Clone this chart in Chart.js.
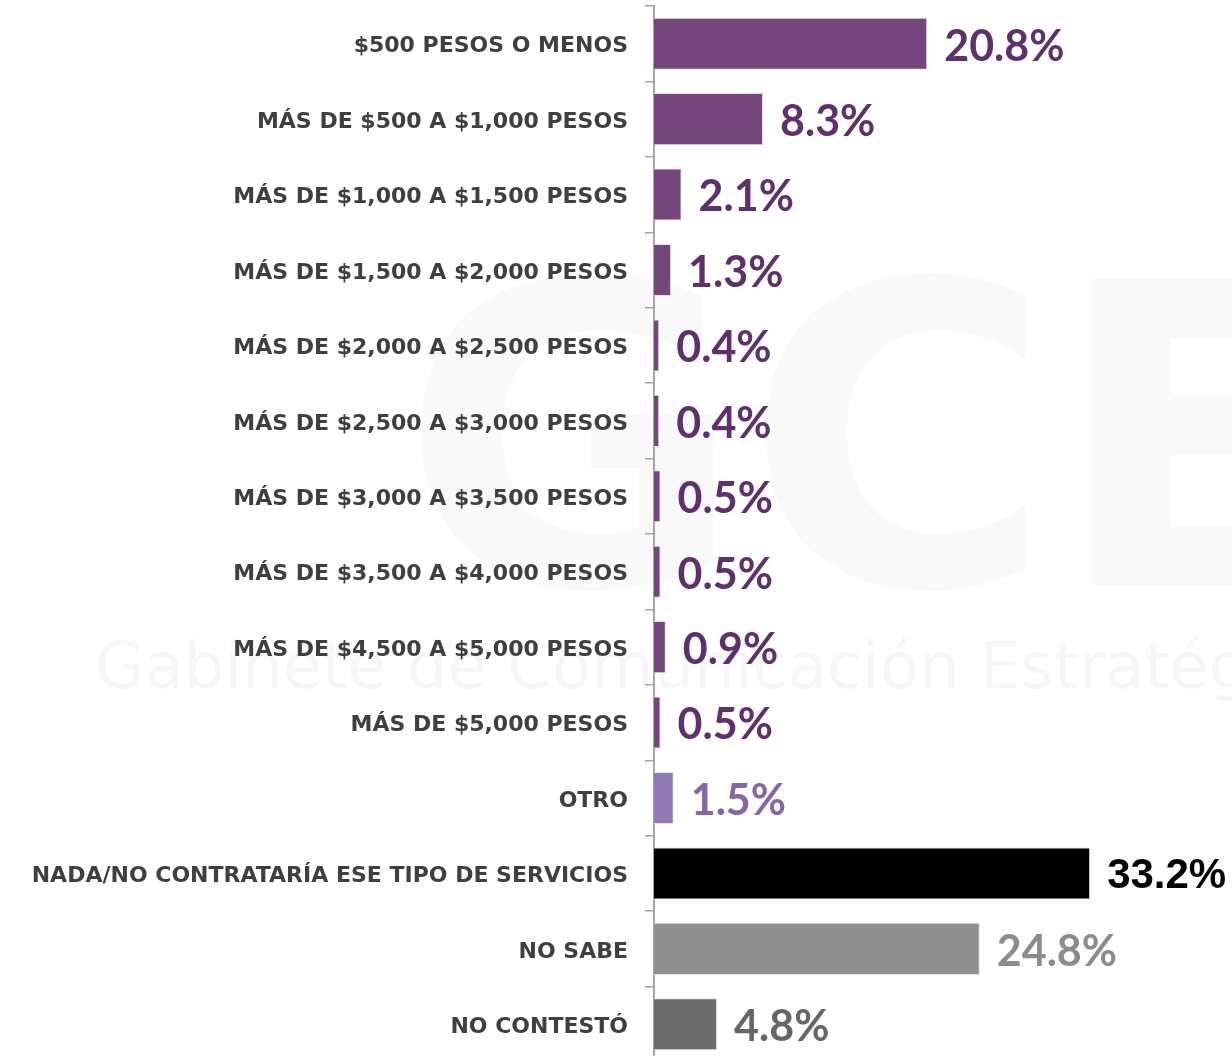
<!DOCTYPE html>
<html>
<head>
<meta charset="utf-8">
<script src="https://cdn.jsdelivr.net/npm/chart.js@4/dist/chart.umd.min.js"></script>
<style>
html,body{margin:0;padding:0;background:#fff;overflow:hidden;}
canvas{display:block;}
</style>
</head>
<body>
<canvas id="c" width="1232" height="1062" style="width:1232px;height:1062px"></canvas>
<script>
const categories = [
  "$500 PESOS O MENOS",
  "MÁS DE $500 A $1,000 PESOS",
  "MÁS DE $1,000 A $1,500 PESOS",
  "MÁS DE $1,500 A $2,000 PESOS",
  "MÁS DE $2,000 A $2,500 PESOS",
  "MÁS DE $2,500 A $3,000 PESOS",
  "MÁS DE $3,000 A $3,500 PESOS",
  "MÁS DE $3,500 A $4,000 PESOS",
  "MÁS DE $4,500 A $5,000 PESOS",
  "MÁS DE $5,000 PESOS",
  "OTRO",
  "NADA/NO CONTRATARÍA ESE TIPO DE SERVICIOS",
  "NO SABE",
  "NO CONTESTÓ"
];
const values = [20.8, 8.3, 2.1, 1.3, 0.4, 0.4, 0.5, 0.5, 0.9, 0.5, 1.5, 33.2, 24.8, 4.8];
const barColors = ["#74467c","#74467c","#74467c","#74467c","#74467c","#74467c","#74467c","#74467c","#74467c","#74467c","#9179b3","#000000","#8f8f8f","#6a6a6a"];
const labelColors = ["#5f2f6e","#5f2f6e","#5f2f6e","#5f2f6e","#5f2f6e","#5f2f6e","#5f2f6e","#5f2f6e","#5f2f6e","#5f2f6e","#8566a8","#000000","#8c8c8c","#666666"];

const watermark = {
  id: 'watermark',
  beforeDraw(chart) {
    const ctx = chart.ctx;
    ctx.save();
    ctx.textBaseline = 'alphabetic';
    ctx.textAlign = 'left';
    ctx.fillStyle = 'rgba(0,0,0,0.035)';
    ctx.font = '64px "DejaVu Sans"';
    ctx.fillText('Gabinete de Comunicación Estratégica', 95, 688);
    ctx.font = 'bold 420px "DejaVu Sans"';
    ctx.fillStyle = 'rgba(0,0,0,0.025)';
    ctx.fillText('GCE', 400, 585);
    ctx.restore();
  }
};

const valueLabels = {
  id: 'valueLabels',
  afterDatasetsDraw(chart) {
    const ctx = chart.ctx;
    const meta = chart.getDatasetMeta(0);
    ctx.save();
    ctx.textAlign = 'left';
    ctx.textBaseline = 'middle';
    meta.data.forEach((bar, i) => {
      ctx.fillStyle = labelColors[i];
      ctx.font = (i === 11) ? 'bold 42px "Liberation Sans"' : 'bold 43px Lato';
      ctx.fillText(values[i].toFixed(1) + '%', bar.x + 17, bar.y + 3);
    });
    ctx.restore();
  }
};

new Chart(document.getElementById('c'), {
  type: 'bar',
  data: {
    labels: categories,
    datasets: [{
      data: values,
      backgroundColor: barColors,
      borderColor: '#e2e2e2',
      borderWidth: 1,
      categoryPercentage: 1,
      barPercentage: 0.69
    }]
  },
  options: {
    indexAxis: 'y',
    responsive: false,
    maintainAspectRatio: false,
    animation: false,
    layout: { padding: { top: 6, right: 0, bottom: 0, left: 0 } },
    plugins: { legend: { display: false }, tooltip: { enabled: false } },
    scales: {
      x: { display: false, min: 0, max: 44 },
      y: {
        afterFit(scale) { scale.width = 654; scale.paddingTop = 0; scale.paddingBottom = 0; },
        grid: { display: true, drawOnChartArea: false, color: '#a6a6a6', lineWidth: 1.5, tickLength: 9, offset: true },
        border: { display: true, color: '#a6a6a6', width: 2 },
        ticks: { color: '#3f3f3f', padding: 17, labelOffset: 3, font: { family: 'DejaVu Sans', weight: 'bold', size: 22 } }
      }
    }
  },
  plugins: [watermark, valueLabels]
});
</script>
</body>
</html>
